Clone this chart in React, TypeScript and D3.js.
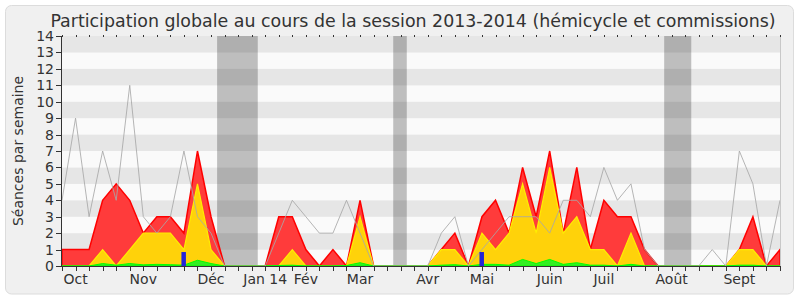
import React from "react";
import * as d3 from "d3";

// weekly values, week 0 .. week 53
const presence = [1, 1, 1, 4, 5, 4, 2, 3, 3, 2, 7, 3, 0, 0, 0, 0, 3, 3, 1, 0, 1, 0, 4, 0, 0, 0, 0, 0, 1, 2, 0, 3, 4, 2, 6, 3, 7, 2, 6, 1, 4, 3, 3, 1, 0, 0, 0, 0, 0, 0, 1, 3, 0, 1];
const participation = [0, 0, 0, 1, 0, 1, 2, 2, 2, 1, 5, 1, 0, 0, 0, 0, 0, 1, 0, 0, 0, 0, 3, 0, 0, 0, 0, 0, 1, 1, 0, 2, 1, 2, 5, 2, 6, 2, 3, 1, 1, 0, 2, 0, 0, 0, 0, 0, 0, 0, 1, 1, 0, 0];
const interventions = [0, 0, 0, 0.15, 0.05, 0.15, 0.07, 0.1, 0.08, 0.05, 0.35, 0.15, 0, 0, 0, 0, 0.03, 0.05, 0, 0, 0, 0.03, 0.2, 0, 0, 0, 0, 0, 0.05, 0.08, 0, 0.1, 0.1, 0.05, 0.4, 0.15, 0.4, 0.1, 0.2, 0.05, 0.05, 0, 0.1, 0, 0, 0, 0, 0, 0, 0, 0.05, 0.05, 0, 0];
const mediane = [4, 9, 3, 7, 4, 11, 3, 2, 3, 7, 3, 2, 0, 0, 0, 0, 2, 4, 3, 2, 2, 4, 2, 0, 0, 0, 0, 0, 2, 3, 0, 1, 2, 3, 3, 3, 2, 4, 4, 3, 6, 4, 5, 1, 0, 0, 0, 0, 1, 0, 7, 5, 0, 4];
const questionWeeks = [9, 31];
const questionValues = [0.85, 0.85];
const vacationStart = [11.45, 24.45, 44.45];
const vacationEnd = [14.45, 25.45, 46.45];
const monthLabels = ["Oct", "Nov", "Déc", "Jan 14", "Fév", "Mar", "Avr", "Mai", "Juin", "Juil", "Août", "Sept"];
const monthWeeks = [1, 6, 11, 15, 18, 22, 27, 31, 36, 40, 45, 50];
const yTicks = [0, 1, 2, 3, 4, 5, 6, 7, 8, 9, 10, 11, 12, 13, 14];
const title = "Participation globale au cours de la session 2013-2014 (hémicycle et commissions)";
const yLabel = "Séances par semaine";

const FONT = "DejaVu Sans, Verdana, sans-serif";

export default function App() {
  const W = 800, H = 300;
  const left = 62, right = 780, top = 36, bottom = 266;
  const n = presence.length;
  const x = d3.scaleLinear().domain([0, n - 1]).range([left, right]);
  const y = d3.scaleLinear().domain([0, 14]).range([bottom, top]);
  const idx = d3.range(n);

  const area = (vals: number[]) =>
    d3.area<number>().x((i) => x(i)).y0(y(0)).y1((i) => y(vals[i]))(idx) || "";
  const line = d3.line<number>().x((i) => x(i)).y((i) => y(mediane[i]))(idx) || "";

  return (
    <svg width={W} height={H} style={{ position: "absolute", left: 0, top: 0 }} fontFamily={FONT}>
      <rect x={0} y={0} width={W} height={H} fill="#ffffff" />
      <rect x={5.5} y={5.5} width={788} height={288.5} rx={6} fill="#f0f0f0" stroke="#dcdcdc" />
      <text x={413} y={27} textAnchor="middle" fontSize={17.4} fill="#333">{title}</text>

      {/* stripes */}
      {yTicks.slice(0, -1).map((k) => (
        <rect key={"s" + k} x={left} y={y(k + 1)} width={right - left} height={y(k) - y(k + 1)}
          fill={k % 2 === 1 ? "#e6e6e6" : "#fafafa"} />
      ))}

      {/* vacations */}
      {vacationStart.map((s, i) => (
        <rect key={"v" + i} x={x(s)} y={top} width={x(vacationEnd[i]) - x(s)} height={bottom - top}
          fill="#000" fillOpacity={0.24} />
      ))}

      <path d={area(presence)} fill="#ff3b3b" stroke="#ff0000" strokeWidth={1.5} strokeLinejoin="miter" />
      <path d={area(participation)} fill="#ffd20a" stroke="#ffee00" strokeWidth={1.2} />
      <path d={area(interventions)} fill="#33ee22" stroke="#00ff00" strokeWidth={1} />
      <path d={line} fill="none" stroke="#a8a8a8" strokeWidth={1} strokeOpacity={0.85} />

      {questionWeeks.map((w, i) => (
        <rect key={"q" + i} x={x(w) - 2.5} y={y(questionValues[i])} width={4.5}
          height={y(0) - y(questionValues[i])} fill="#2424d8" />
      ))}

      {/* right border */}
      <line x1={right + 0.5} x2={right + 0.5} y1={top} y2={bottom} stroke="#c8c8c8" />

      {/* axes */}
      <line x1={left - 0.5} x2={left - 0.5} y1={top} y2={bottom + 0.5} stroke="#333" />
      <line x1={left - 0.5} x2={right + 1} y1={bottom + 0.5} y2={bottom + 0.5} stroke="#333" />

      {yTicks.map((t) => (
        <g key={"y" + t}>
          <line x1={left - 6} x2={left} y1={Math.round(y(t)) + 0.5} y2={Math.round(y(t)) + 0.5} stroke="#333" />
          <text x={left - 8} y={y(t)} dy="0.36em" textAnchor="end" fontSize={14} fill="#333">{t}</text>
        </g>
      ))}

      {idx.map((i) => (
        <g key={"x" + i}>
          <line x1={Math.round(x(i)) + 0.5} x2={Math.round(x(i)) + 0.5} y1={bottom} y2={bottom + 5} stroke="#333" />
          <line x1={Math.round(x(i)) + 0.5} x2={Math.round(x(i)) + 0.5} y1={top - 1} y2={top + 1} stroke="#333" />
        </g>
      ))}

      {monthLabels.map((m, i) => (
        <text key={"m" + i} x={x(monthWeeks[i])} y={284} textAnchor="middle" fontSize={14} fill="#333">{m}</text>
      ))}

      <text transform={`translate(23, 151) rotate(-90)`} textAnchor="middle" fontSize={14} fill="#333">{yLabel}</text>
    </svg>
  );
}
